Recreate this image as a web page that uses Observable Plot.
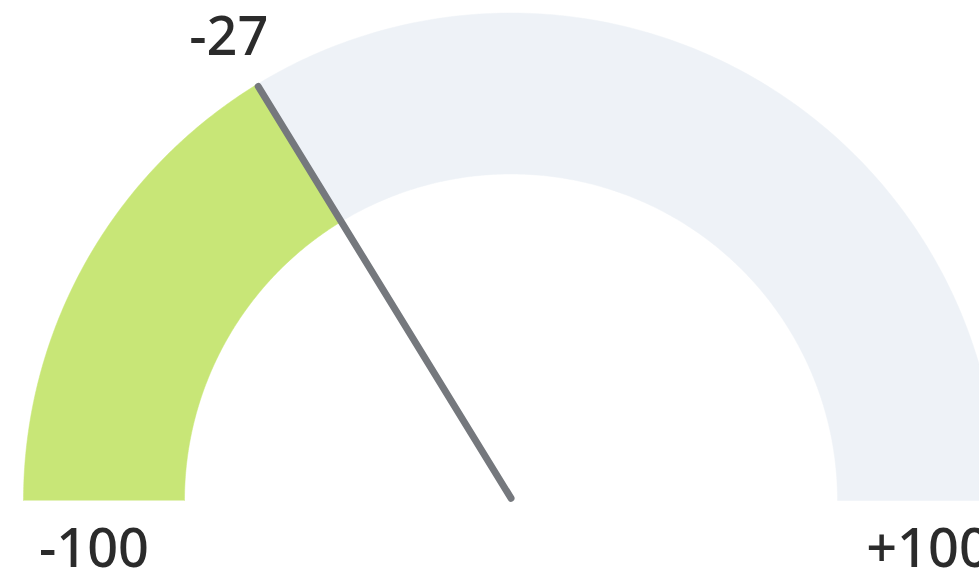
<!DOCTYPE html>
<html><head><meta charset="utf-8">
<script src="https://cdn.jsdelivr.net/npm/d3@7"></script>
<script src="https://cdn.jsdelivr.net/npm/@observablehq/plot@0.6"></script>
<style>html,body{margin:0;padding:0;background:#fff;overflow:hidden}</style>
</head><body><div id="chart"></div>
<script>
// ---- data ----
const gaugeRange = [-100, 100];
const values = [-27];
const valueLabels = ["-27"];
const endLabels = ["-100", "+100"];
const segmentColors = ["#c8e677", "#eef2f7"];

// ---- layout ----
const W = 979, H = 574, cx = 510.5, cy = 500, R = 487.5;
const rOuter = 1, rInner = 326.5 / 487.5;

// angle scale (matches reference needle placement)
const angle = d3.scaleLinear()
  .domain([gaugeRange[0], values[0], gaugeRange[1]])
  .range([Math.PI, 121.4 * Math.PI / 180, 0]);

function band(v0, v1) {
  const a0 = angle(v0), a1 = angle(v1), n = 180, pts = [];
  for (let i = 0; i <= n; i++) { const a = a0 + (a1 - a0) * i / n; pts.push({x: Math.cos(a) * rOuter, y: Math.sin(a) * rOuter}); }
  for (let i = n; i >= 0; i--) { const a = a0 + (a1 - a0) * i / n; pts.push({x: Math.cos(a) * rInner, y: Math.sin(a) * rInner}); }
  return pts;
}

const aV = angle(values[0]);
const needle = [{x: 0, y: 2.3 / R}, {x: Math.cos(aV) * 0.995, y: Math.sin(aV) * 0.995}];
const valueText = [{x: Math.cos(aV) * 1.111, y: Math.sin(aV) * 1.111, t: valueLabels[0]}];
const endText = endLabels.map((t, i) => ({x: (i === 0 ? -1 : 1) * 417 / R, y: -49.4 / R, t}));

const chart = Plot.plot({
  width: W, height: H, margin: 0,
  x: {domain: [-cx / R, (W - cx) / R], range: [0, W], axis: null},
  y: {domain: [-(H - cy) / R, cy / R], range: [H, 0], axis: null},
  style: {fontFamily: "'Noto Sans', 'Open Sans', sans-serif", background: "white"},
  marks: [
    Plot.line(band(gaugeRange[0], values[0]), {x: "x", y: "y", fill: segmentColors[0], stroke: segmentColors[0], strokeWidth: 0.5}),
    Plot.line(band(values[0], gaugeRange[1]), {x: "x", y: "y", fill: segmentColors[1], stroke: segmentColors[1], strokeWidth: 0.5}),
    Plot.line(needle, {x: "x", y: "y", stroke: "#75787d", strokeWidth: 7, strokeLinecap: "round"}),
    Plot.text(valueText, {x: "x", y: "y", text: "t", fontSize: 54, fontWeight: 500, fill: "#2b2b2b", textAnchor: "middle"}),
    Plot.text(endText, {x: "x", y: "y", text: "t", fontSize: 54, fontWeight: 500, fill: "#2b2b2b", textAnchor: "middle"})
  ]
});
document.getElementById("chart").appendChild(chart);
</script>
</body></html>
